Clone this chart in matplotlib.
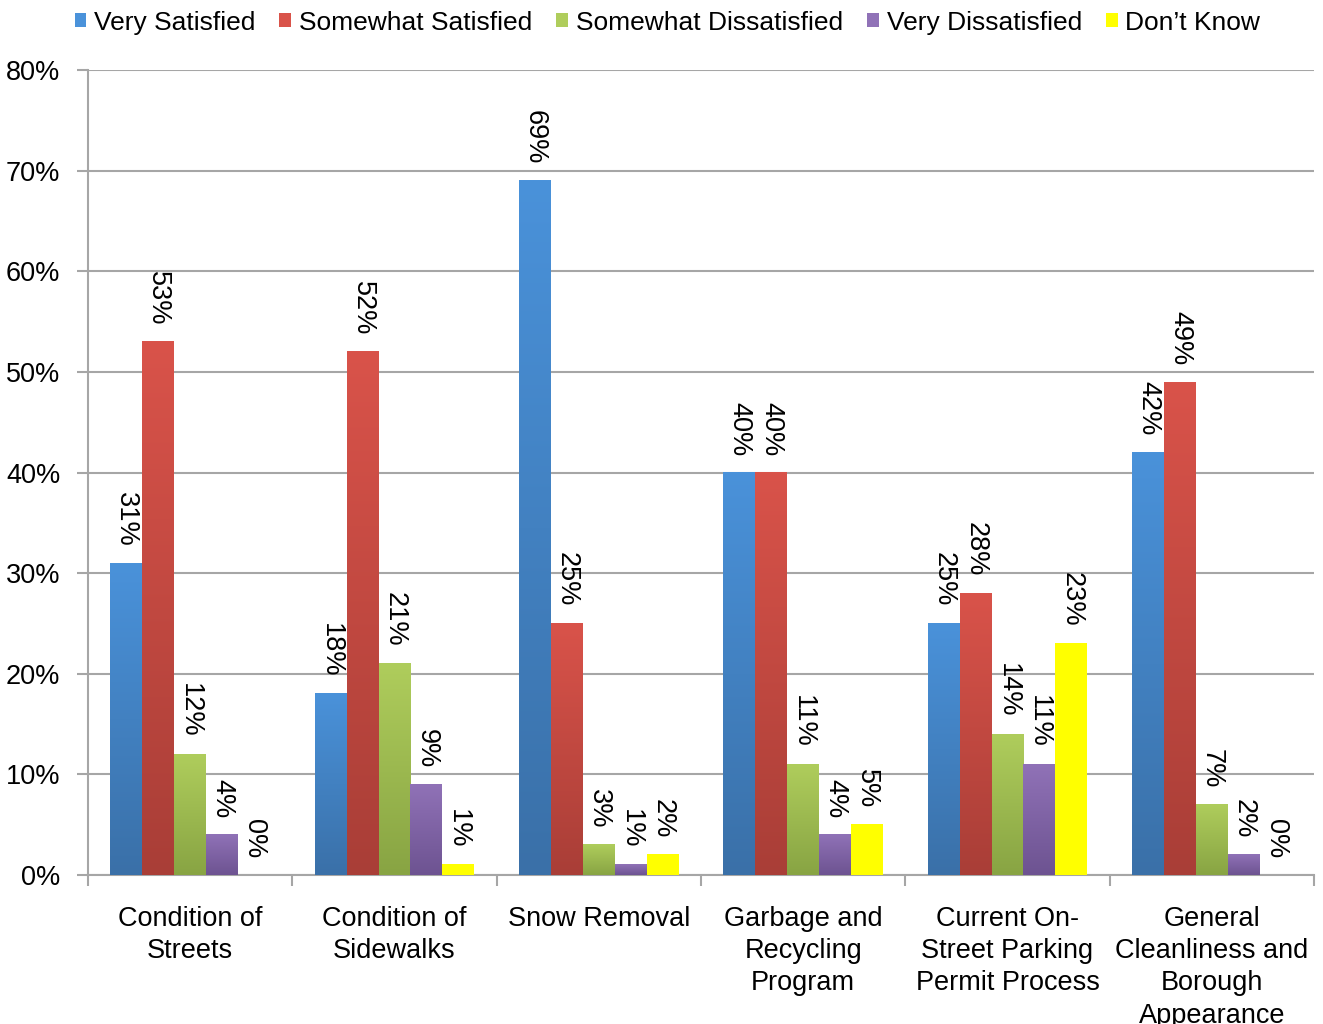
import matplotlib
matplotlib.use("Agg")
import matplotlib.pyplot as plt
from matplotlib.colors import LinearSegmentedColormap
from matplotlib.patches import Patch
import numpy as np

plt.rcParams["font.family"] = ["Liberation Sans", "DejaVu Sans"]

categories = ["Condition of\nStreets", "Condition of\nSidewalks", "Snow Removal",
              "Garbage and\nRecycling\nProgram", "Current On-\nStreet Parking\nPermit Process",
              "General\nCleanliness and\nBorough\nAppearance"]
series_names = ["Very Satisfied", "Somewhat Satisfied", "Somewhat Dissatisfied",
                "Very Dissatisfied", "Don\u2019t Know"]
very_satisfied = [31, 18, 69, 40, 25, 42]
somewhat_satisfied = [53, 52, 25, 40, 28, 49]
somewhat_dissatisfied = [12, 21, 3, 11, 14, 7]
very_dissatisfied = [4, 9, 1, 4, 11, 2]
dont_know = [0, 1, 2, 5, 23, 0]
yticks = [0, 10, 20, 30, 40, 50, 60, 70, 80]

series = [very_satisfied, somewhat_satisfied, somewhat_dissatisfied, very_dissatisfied, dont_know]
# (bottom colour, top colour) for the gradient fill
grads = [("#3A70A8", "#4A92DA"),
         ("#A93E37", "#D9534A"),
         ("#88A443", "#AFCD5C"),
         ("#6D5391", "#9072B7"),
         ("#FFFF00", "#FFFF00")]

fig = plt.figure(figsize=(13.23, 10.24), dpi=100)
ax = fig.add_axes([0.0665, 0.1455, 0.9267, 0.786])

x = np.arange(len(categories))
w = 0.156
grad = np.linspace(0, 1, 256).reshape(-1, 1)

for i, vals in enumerate(series):
    offs = x + (i - 2) * w
    bars = ax.bar(offs, vals, w, color="none", edgecolor="none", zorder=3)
    cmap = LinearSegmentedColormap.from_list("g%d" % i, grads[i])
    for b, v in zip(bars, vals):
        if v > 0:
            ax.imshow(grad, cmap=cmap, origin="lower", aspect="auto", zorder=3,
                      extent=(b.get_x(), b.get_x() + b.get_width(), 0, b.get_height()))
        ax.annotate("%d%%" % v, (b.get_x() + b.get_width() / 2, v),
                    xytext=(0, 12), textcoords="offset points",
                    rotation=270, ha="center", va="bottom", fontsize=19.5, zorder=4)

ax.set_xlim(-0.5, len(categories) - 0.5)
ax.set_ylim(0, 80)
ax.set_yticks(yticks)
ax.set_yticklabels(["%d%%" % t for t in yticks], fontsize=19.5)
ax.set_xticks(x)
ax.set_xticklabels(categories, fontsize=19.5, linespacing=1.32)
ax.set_xticks(np.arange(len(categories) + 1) - 0.5, minor=True)
ax.tick_params(axis="x", which="major", length=0, pad=22)
ax.tick_params(axis="x", which="minor", length=8, width=1.5, color="#A6A6A6")
ax.tick_params(axis="y", length=8, width=1.5, color="#A6A6A6", pad=12)
ax.grid(axis="y", color="#A6A6A6", linewidth=1.5, zorder=0)
ax.set_axisbelow(True)
for s in ["top", "right"]:
    ax.spines[s].set_visible(False)
for s in ["left", "bottom"]:
    ax.spines[s].set_color("#A6A6A6")
    ax.spines[s].set_linewidth(1.5)

handles = [Patch(facecolor=g[1]) for g in grads]
fig.legend(handles, series_names, loc="center", bbox_to_anchor=(0.5045, 0.978), ncol=5,
           frameon=False, fontsize=19, handlelength=0.45, handleheight=0.45,
           handletextpad=0.3, columnspacing=0.9)

fig.savefig("out.png", dpi=100)
